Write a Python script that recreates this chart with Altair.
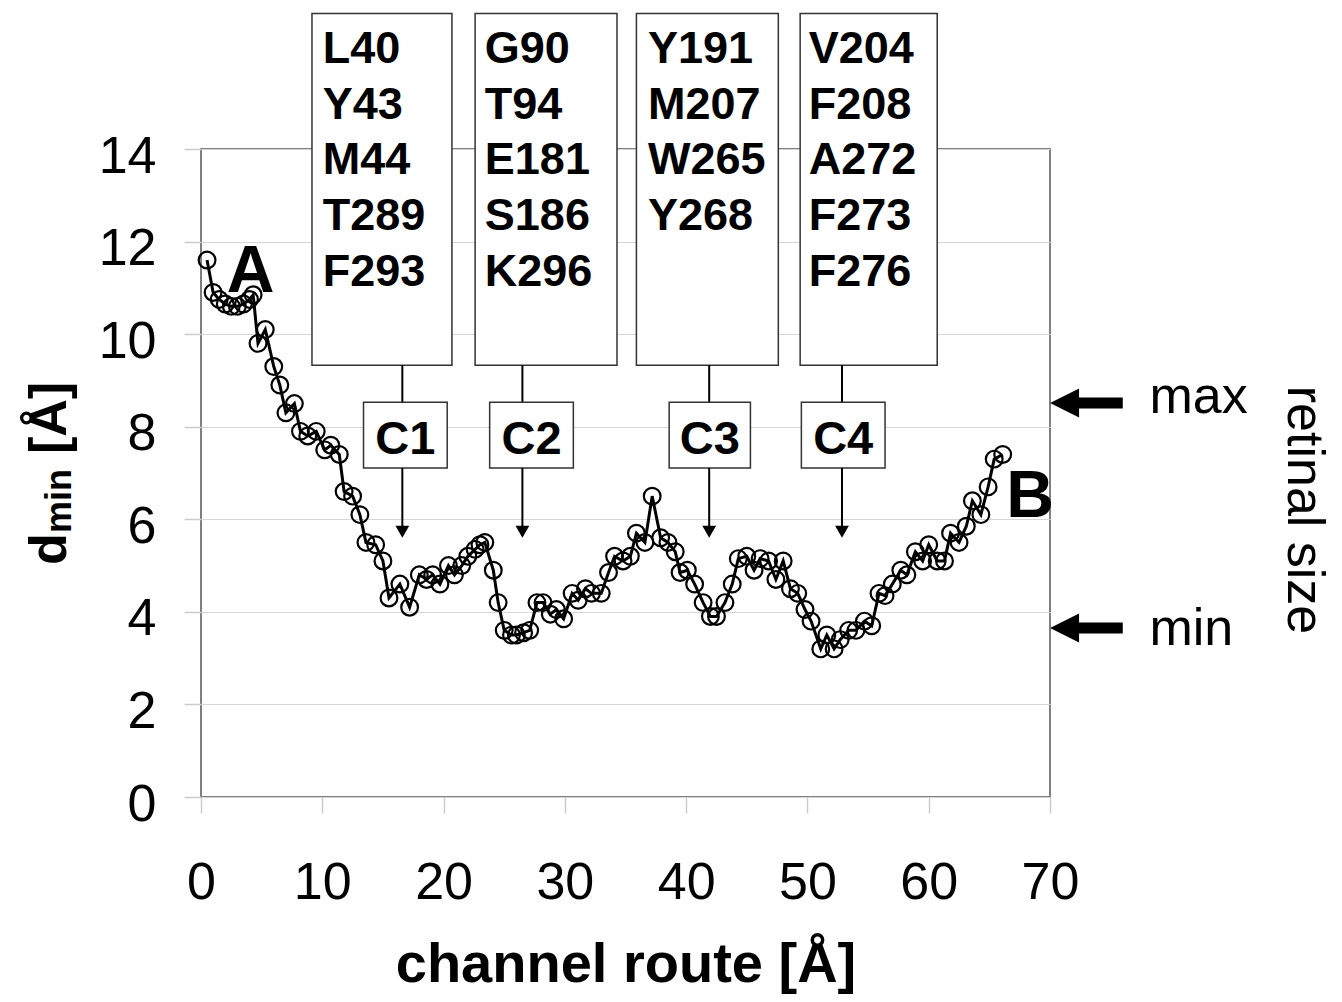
import altair as alt
import pandas as pd

FONT = "Liberation Sans"

# ---- data series ----
route = [0.5, 1.0, 1.5, 2.0, 2.5, 3.0, 3.5, 4.0, 4.3, 4.7, 5.3, 6.0, 6.5, 7.0, 7.7, 8.2, 8.8, 9.5,
         10.2, 10.7, 11.4, 11.8, 12.5, 13.1, 13.6, 14.4, 15.0, 15.5, 16.4, 17.2, 18.0, 18.6, 19.1,
         19.7, 20.4, 20.9, 21.5, 22.0, 22.6, 23.0, 23.4, 24.1, 24.5, 25.0, 25.6, 26.0, 26.6, 27.1,
         27.7, 28.2, 28.8, 29.3, 29.9, 30.6, 31.1, 31.7, 32.2, 33.0, 33.6, 34.1, 34.8, 35.4, 35.9,
         36.6, 37.2, 37.9, 38.5, 39.1, 39.5, 40.1, 40.7, 41.4, 42.0, 42.5, 43.2, 43.8, 44.3, 45.0,
         45.6, 46.1, 46.8, 47.4, 48.0, 48.6, 49.2, 49.8, 50.3, 51.1, 51.6, 52.2, 52.7, 53.4, 54.0,
         54.7, 55.3, 55.9, 56.4, 57.0, 57.7, 58.2, 58.9, 59.5, 60.0, 60.7, 61.3, 61.8, 62.5, 63.1,
         63.6, 64.3, 64.9, 65.4, 66.1]
dmin = [11.6, 10.9, 10.75, 10.65, 10.6, 10.6, 10.65, 10.75, 10.85, 9.8, 10.1, 9.3, 8.9, 8.3, 8.5,
        7.9, 7.8, 7.9, 7.5, 7.6, 7.4, 6.6, 6.5, 6.1, 5.5, 5.45, 5.1, 4.3, 4.6, 4.1, 4.8, 4.7, 4.8,
        4.6, 5.0, 4.8, 5.0, 5.2, 5.35, 5.45, 5.5, 4.9, 4.2, 3.6, 3.5, 3.5, 3.55, 3.6, 4.2, 4.2,
        3.95, 4.05, 3.85, 4.4, 4.25, 4.5, 4.4, 4.4, 4.85, 5.2, 5.1, 5.2, 5.7, 5.5, 6.5, 5.6, 5.5,
        5.3, 4.85, 4.9, 4.6, 4.2, 3.9, 3.9, 4.2, 4.6, 5.15, 5.2, 4.9, 5.15, 5.1, 4.7, 5.1, 4.5,
        4.4, 4.05, 3.8, 3.2, 3.5, 3.2, 3.4, 3.6, 3.6, 3.8, 3.7, 4.4, 4.35, 4.6, 4.9, 4.8, 5.3, 5.1,
        5.45, 5.1, 5.1, 5.7, 5.5, 5.85, 6.4, 6.1, 6.7, 7.3, 7.4]

x_ticks = [0, 10, 20, 30, 40, 50, 60, 70]
y_ticks = [0, 2, 4, 6, 8, 10, 12, 14]

# ---- annotation content ----
residues = [["L40", "Y43", "M44", "T289", "F293"],
            ["G90", "T94", "E181", "S186", "K296"],
            ["Y191", "M207", "W265", "Y268"],
            ["V204", "F208", "A272", "F273", "F276"]]
constrictions = ["C1", "C2", "C3", "C4"]
box_x0 = [9.15, 22.6, 35.9, 49.4]
box_x1 = [20.69, 34.3, 47.6, 60.7]
box_top, box_bottom = 16.93, 9.33
text_x = [10.03, 23.4, 36.85, 50.1]
row_y = [15.85, 14.65, 13.45, 12.25, 11.05]
line_x = [16.6, 26.5, 41.9, 52.85]
cbox_x0 = [13.4, 23.8, 38.6, 49.5]
cbox_x1 = [20.3, 30.7, 45.3, 56.4]
cbox_top, cbox_bottom = 8.53, 7.11
c_text_y = 7.4
arrow_shaft_end = 5.75
arrow_head_y = 5.73

retinal_labels = ["max", "min"]
retinal_values = [8.51, 3.65]
retinal_text_y = [8.30, 3.28]

end_labels = ["A", "B"]
end_x = [2.12, 66.4]
end_y = [10.91, 6.05]

# ---- frames ----
df = pd.DataFrame({"x": route, "y": dmin})

xs = alt.X("x:Q", scale=alt.Scale(domain=[0, 70], nice=False),
           axis=alt.Axis(values=x_ticks, title="channel route [Å]", grid=False,
                         labelFlush=False, labelOverlap=False, tickSize=16, labelPadding=44,
                         titleX=424.5, titleY=184, titleAlign="center",
                         titleBaseline="alphabetic", titleFontSize=56, titleFontWeight="bold"))
ys = alt.Y("y:Q", scale=alt.Scale(domain=[0, 14], nice=False, zero=True),
           axis=alt.Axis(values=y_ticks, title=None, grid=True, tickSize=17,
                         labelPadding=28, labelOffset=7, labelOverlap=False, labelFlush=False))
nx = alt.X("x:Q")
ny = alt.Y("y:Q")

line = alt.Chart(df).mark_line(color="black", strokeWidth=3).encode(x=xs, y=ys)
pts = alt.Chart(df).mark_point(shape="circle", filled=False, size=280, color="black",
                               strokeWidth=2.2, opacity=1).encode(x=nx, y=ny)

boxes = pd.DataFrame({"x": box_x0, "x2": box_x1, "y": [box_top] * 4, "y2": [box_bottom] * 4})
box_layer = alt.Chart(boxes).mark_rect(fill="white", stroke="#333333", strokeWidth=1.5).encode(
    x=nx, x2="x2:Q", y=ny, y2="y2:Q")

rtx, rty, rlab = [], [], []
for i, group in enumerate(residues):
    for j, r in enumerate(group):
        rtx.append(text_x[i]); rty.append(row_y[j]); rlab.append(r)
res_df = pd.DataFrame({"x": rtx, "y": rty, "t": rlab})
res_layer = alt.Chart(res_df).mark_text(font=FONT, fontSize=45, fontWeight="bold", align="left",
                                        baseline="alphabetic", color="black").encode(
    x=nx, y=ny, text="t:N")

conn = pd.DataFrame({"x": line_x, "y": [box_bottom] * 4, "y2": [cbox_top] * 4})
conn_layer = alt.Chart(conn).mark_rule(color="black", strokeWidth=2).encode(x=nx, y=ny, y2="y2:Q")

cboxes = pd.DataFrame({"x": cbox_x0, "x2": cbox_x1, "y": [cbox_top] * 4, "y2": [cbox_bottom] * 4})
cbox_layer = alt.Chart(cboxes).mark_rect(fill="white", stroke="#333333", strokeWidth=1.5).encode(
    x=nx, x2="x2:Q", y=ny, y2="y2:Q")
ctext = pd.DataFrame({"x": [(a + b) / 2 for a, b in zip(cbox_x0, cbox_x1)],
                      "y": [c_text_y] * 4, "t": constrictions})
ctext_layer = alt.Chart(ctext).mark_text(font=FONT, fontSize=47, fontWeight="bold", align="center",
                                         baseline="alphabetic", color="black").encode(
    x=nx, y=ny, text="t:N")

shafts = pd.DataFrame({"x": line_x, "y": [cbox_bottom] * 4, "y2": [arrow_shaft_end] * 4})
shaft_layer = alt.Chart(shafts).mark_rule(color="black", strokeWidth=2).encode(x=nx, y=ny, y2="y2:Q")
heads = pd.DataFrame({"x": line_x, "y": [arrow_head_y] * 4})
head_layer = alt.Chart(heads).mark_point(shape="triangle-down", filled=True, size=190, color="black",
                                         opacity=1).encode(x=nx, y=ny)

ends = pd.DataFrame({"x": end_x, "y": end_y, "t": end_labels})
ends_layer = alt.Chart(ends).mark_text(font=FONT, fontSize=66, fontWeight="bold", align="left",
                                       baseline="alphabetic", color="black").encode(
    x=nx, y=ny, text="t:N")

ret = pd.DataFrame({"x": [72.3] * 2, "x2": [76.0] * 2, "y": retinal_values})
ret_shaft = alt.Chart(ret).mark_rule(color="black", strokeWidth=11).encode(x=nx, x2="x2:Q", y=ny)
ret_head_df = pd.DataFrame({"x": [71.2] * 2, "y": retinal_values})
ret_head = alt.Chart(ret_head_df).mark_point(shape="M1,-1L-1,0L1,1Z", filled=True, size=841,
                                             color="black", opacity=1).encode(x=nx, y=ny)
ret_txt_df = pd.DataFrame({"x": [78.2] * 2, "y": retinal_text_y, "t": retinal_labels})
ret_txt = alt.Chart(ret_txt_df).mark_text(font=FONT, fontSize=52, align="left",
                                          baseline="alphabetic", color="black").encode(
    x=nx, y=ny, text="t:N")

side_df = pd.DataFrame({"t": ["retinal size"]})
side_txt = alt.Chart(side_df).mark_text(font=FONT, fontSize=52, angle=90, align="center",
                                        baseline="alphabetic", color="black").encode(
    x=alt.value(1087), y=alt.value(361), text="t:N")

# y-axis title with subscript
yt_d = alt.Chart(pd.DataFrame({"t": ["d"]})).mark_text(
    font=FONT, fontSize=52, fontWeight="bold", angle=270, align="left", baseline="alphabetic",
    color="black").encode(x=alt.value(-135), y=alt.value(416), text="t:N")
yt_min = alt.Chart(pd.DataFrame({"t": ["min"]})).mark_text(
    font=FONT, fontSize=36, fontWeight="bold", angle=270, align="left", baseline="alphabetic",
    color="black").encode(x=alt.value(-130), y=alt.value(384), text="t:N")
yt_unit = alt.Chart(pd.DataFrame({"t": ["[Å]"]})).mark_text(
    font=FONT, fontSize=52, fontWeight="bold", angle=270, align="left", baseline="alphabetic",
    color="black").encode(x=alt.value(-135), y=alt.value(305), text="t:N")

chart = alt.layer(
    line, pts, box_layer, res_layer, conn_layer, cbox_layer, ctext_layer, shaft_layer, head_layer,
    ends_layer, ret_shaft, ret_head, ret_txt, side_txt, yt_d, yt_min, yt_unit
).properties(
    width=849, height=648,
    autosize=alt.AutoSizeParams(type="none"),
    padding={"left": 193, "top": 141, "right": 284, "bottom": 197},
    background="white",
).configure_view(
    stroke="#7f7f7f", strokeWidth=2
).configure_axis(
    labelFont=FONT, titleFont=FONT, labelFontSize=52, labelColor="black", titleColor="black",
    domain=False, tickColor="#cccccc", tickWidth=1.5, gridColor="#d6d6d6", gridWidth=1.2
)

chart.save("out.html", embed_options={"renderer": "svg", "actions": False})
